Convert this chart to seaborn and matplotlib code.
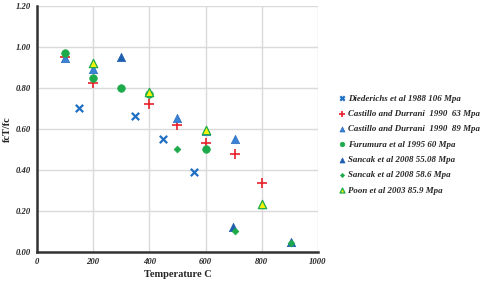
import matplotlib
matplotlib.use("Agg")
import matplotlib.pyplot as plt
import seaborn as sns
import pandas as pd

# ---- data ----
diederichs_x = [150, 350, 450, 560]
diederichs_y = [0.70, 0.665, 0.55, 0.39]

castillo63_x = [100, 200, 400, 500, 600, 705, 800]
castillo63_y = [0.95, 0.825, 0.72, 0.62, 0.53, 0.48, 0.335]

castillo89_x = [100, 200, 500, 600, 705]
castillo89_y = [0.945, 0.895, 0.655, 0.59, 0.55]

furumura_x = [100, 200, 300, 400, 600]
furumura_y = [0.97, 0.85, 0.80, 0.77, 0.50]

sancak55_x = [300, 697, 903]
sancak55_y = [0.95, 0.12, 0.05]

sancak58_x = [500, 705, 903]
sancak58_y = [0.50, 0.10, 0.045]

poon_x = [200, 400, 600, 800]
poon_y = [0.92, 0.78, 0.595, 0.235]

labels = [
    "Diederichs et al 1988 106 Mpa",
    "Castillo and Durrani  1990  63 Mpa",
    "Castillo and Durrani  1990  89 Mpa",
    "Furumura et al 1995 60 Mpa",
    "Sancak et al 2008 55.08 Mpa",
    "Sancak et al 2008 58.6 Mpa",
    "Poon et al 2003 85.9 Mpa",
]

x_ticks = [0, 200, 400, 600, 800, 1000]
y_ticks = [0.00, 0.20, 0.40, 0.60, 0.80, 1.00, 1.20]

sns.set_theme(style="white")
serif = ["Liberation Serif", "DejaVu Serif"]
plt.rcParams["font.family"] = serif

fig = plt.figure(figsize=(4.8, 2.86), dpi=100)
ax = fig.add_axes([0.077, 0.119, 0.5855, 0.860])

series = [
    (diederichs_x, diederichs_y, dict(marker="x", color="#1F6FC5", s=28, linewidth=1.6)),
    (castillo63_x, castillo63_y, dict(marker="+", color="#E8202A", s=45, linewidth=1.2)),
    (castillo89_x, castillo89_y, dict(marker="^", color="#3A82D6", s=36, edgecolor="#2A6CC0", linewidth=0.5)),
    (furumura_x, furumura_y, dict(marker="o", color="#1DAA4B", s=30, edgecolor="#1DAA4B", linewidth=0.5)),
    (sancak55_x, sancak55_y, dict(marker="^", color="#1F5FB0", s=36, edgecolor="#1F5FB0", linewidth=0.5)),
    (sancak58_x, sancak58_y, dict(marker="D", color="#1DAA4B", s=12, edgecolor="#1DAA4B", linewidth=0.5)),
    (poon_x, poon_y, dict(marker="^", color="#F2F20A", s=36, edgecolor="#1DAA4B", linewidth=0.9)),
]

for i in range(len(series)):
    xs, ys, kw = series[i]
    df = pd.DataFrame({"T": xs, "r": ys})
    sns.scatterplot(data=df, x="T", y="r", ax=ax, label=labels[i], zorder=3, **kw)

ax.set_xlim(0, 1000)
ax.set_ylim(0, 1.2)
ax.set_xticks(x_ticks)
ax.set_yticks(y_ticks)
ax.set_xticklabels([str(v) for v in x_ticks], fontsize=6.2, fontstyle="italic", fontweight="bold")
ax.set_yticklabels([f"{v:.2f}" for v in y_ticks], fontsize=6.2, fontstyle="italic", fontweight="bold")
ax.grid(True, color="#DADADA", linewidth=1.0)
ax.set_axisbelow(True)
for s in ["top", "right"]:
    ax.spines[s].set_visible(False)
for s in ["left", "bottom"]:
    ax.spines[s].set_color("#333333")
    ax.spines[s].set_linewidth(1.8)
ax.tick_params(axis="both", length=0, pad=4)
ax.set_xlabel("Temperature C", fontsize=7.5, fontweight="bold", labelpad=3)
ax.set_ylabel("fcT/fc", fontsize=7.5, fontweight="bold", labelpad=3)

leg = ax.legend(loc="upper left", bbox_to_anchor=(1.055, 0.655), frameon=False,
                prop=dict(family=serif, size=6.4, style="italic", weight="bold"),
                handletextpad=0.05, labelspacing=0.8, markerscale=0.6, borderaxespad=0,
                handlelength=1.2)

fig.savefig("out.png", dpi=100)
